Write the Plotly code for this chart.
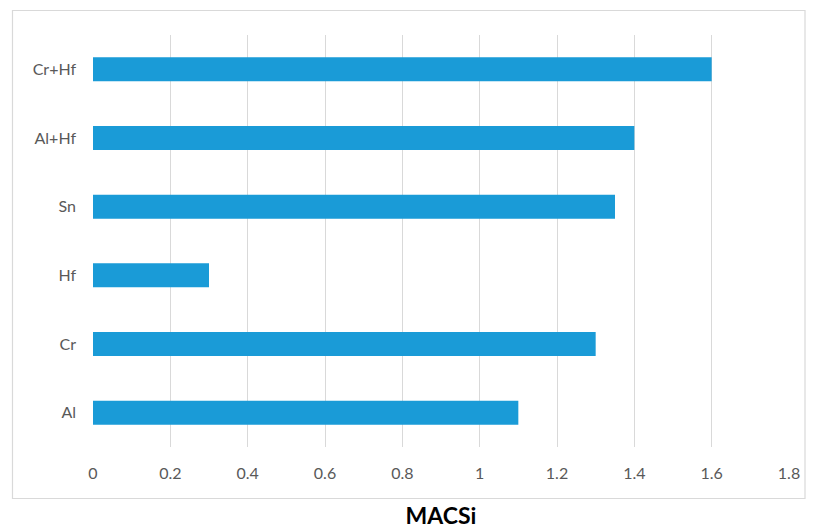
import plotly.graph_objects as go

categories = ["Al", "Cr", "Hf", "Sn", "Al+Hf", "Cr+Hf"]
values = [1.1, 1.3, 0.3, 1.35, 1.4, 1.6]
x_ticks = [0, 0.2, 0.4, 0.6, 0.8, 1, 1.2, 1.4, 1.6, 1.8]
x_tick_labels = ["0", "0.2", "0.4", "0.6", "0.8", "1", "1.2", "1.4", "1.6", "1.8"]

W, H = 814, 530
OFF = 8  # browser body margin
ml, mr, mt, mb = 93 - OFF, W - (789 - OFF), 35 - OFF, H - (447 - OFF)
pw, ph = W - ml - mr, H - mt - mb

fig = go.Figure(go.Bar(
    y=categories, x=values, orientation="h",
    marker=dict(color="#1a9bd7", line=dict(width=0)),
))

def px2paper_x(px):
    return (px - OFF - ml) / pw

def px2paper_y(py):
    return (H - mb - (py - OFF)) / ph

fig.add_shape(type="rect", xref="paper", yref="paper",
              x0=px2paper_x(12.5), x1=px2paper_x(805), y0=px2paper_y(498.5), y1=px2paper_y(10.5),
              line=dict(color="#d9d9d9", width=1.2), fillcolor="rgba(0,0,0,0)", layer="below")

fig.update_layout(
    width=W, height=H,
    margin=dict(l=ml, r=mr, t=mt, b=mb, autoexpand=False),
    paper_bgcolor="white", plot_bgcolor="white",
    bargap=0.65,
    showlegend=False,
    font=dict(family="Lato, Open Sans, sans-serif", size=16, color="#595959"),
    xaxis=dict(
        range=[0, 1.8], tickvals=x_ticks, ticktext=x_tick_labels,
        showgrid=True, gridcolor="#d9d9d9", gridwidth=1.3,
        zeroline=False, showline=False, ticks="",
        ticklabelstandoff=15, automargin=False,
        title=dict(text="<b>MACSi</b>", font=dict(size=23, color="black", family="Lato, Open Sans, sans-serif"), standoff=26),
    ),
    yaxis=dict(
        categoryorder="array", categoryarray=categories,
        showgrid=False, zeroline=False, showline=False, ticks="",
        ticklabelstandoff=16, automargin=False,
    ),
)

fig.write_html("out.html")
